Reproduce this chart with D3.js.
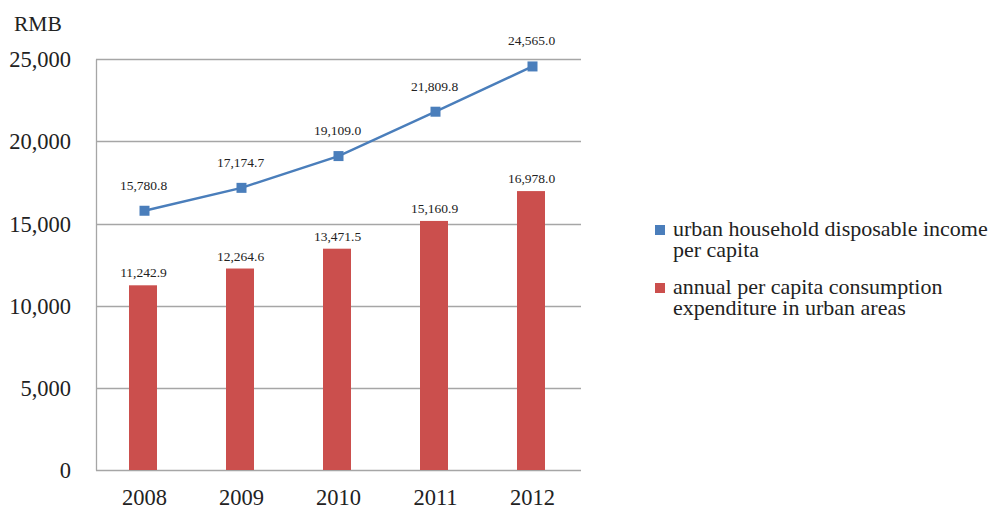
<!DOCTYPE html>
<html>
<head>
<meta charset="utf-8">
<script src="https://cdn.jsdelivr.net/npm/d3@7"></script>
<style>
  html, body { margin: 0; padding: 0; background: #fff; }
  svg { display: block; font-family: "Liberation Serif", "Times New Roman", serif; }
</style>
</head>
<body>
<svg id="chart" width="997" height="509"></svg>
<script>
// Urban income vs. consumption per capita, 2008–2012 (RMB)
const years = ["2008", "2009", "2010", "2011", "2012"];
const incomePerCapita = [15780.8, 17174.7, 19109.0, 21809.8, 24565.0];
const consumptionPerCapita = [11242.9, 12264.6, 13471.5, 15160.9, 16978.0];
const yTicks = [0, 5000, 10000, 15000, 20000, 25000];
const seriesNames = [
  ["urban household disposable income", "per capita"],
  ["annual per capita consumption", "expenditure in urban areas"]
];

const lineColor = "#4a7ebb";
const barColor = "#cb4f4d";
const gridColor = "#a6a6a6";
const textColor = "#222";

const svg = d3.select("#chart");
const plotLeft = 96, plotRight = 581, plotTop = 59.3, plotBottom = 470;

const x = d3.scaleBand().domain(years).range([plotLeft, plotRight]);
const y = d3.scaleLinear().domain([0, 25000]).range([plotBottom, plotTop]);
const fmt = d3.format(",.1f");
const cx = i => x(years[i]) + x.bandwidth() / 2;

// horizontal grid lines
svg.append("g")
  .selectAll("line")
  .data(yTicks)
  .join("line")
  .attr("x1", plotLeft).attr("x2", plotRight)
  .attr("y1", d => Math.round(y(d)) + 0.5).attr("y2", d => Math.round(y(d)) + 0.5)
  .attr("stroke", gridColor).attr("stroke-width", 1.3);

// left axis line
svg.append("line")
  .attr("x1", plotLeft + 0.5).attr("x2", plotLeft + 0.5)
  .attr("y1", Math.round(y(25000)) + 0.5).attr("y2", Math.round(y(0)) + 0.5)
  .attr("stroke", gridColor).attr("stroke-width", 1.3);

// y tick labels
const yAxis = d3.axisLeft(y).tickValues(yTicks).tickFormat(d3.format(",")).tickSize(0).tickPadding(25);
const gy = svg.append("g").attr("transform", `translate(${plotLeft},0)`).call(yAxis);
gy.select(".domain").remove();
gy.selectAll("text")
  .attr("font-family", "Liberation Serif, serif")
  .attr("font-size", 22.5).attr("fill", textColor).attr("dy", "0.33em");

// x tick labels
const xAxis = d3.axisBottom(x).tickSize(0).tickPadding(0);
const gx = svg.append("g").attr("transform", `translate(0,${plotBottom})`).call(xAxis);
gx.select(".domain").remove();
gx.selectAll("text")
  .attr("font-family", "Liberation Serif, serif")
  .attr("font-size", 22.5).attr("fill", textColor)
  .attr("dy", null).attr("y", 34.5);

// unit label
svg.append("text").attr("x", 14).attr("y", 31)
  .attr("font-size", 21.5).attr("fill", textColor).text("RMB");

// consumption bars
const barW = 28;
svg.append("g")
  .selectAll("rect")
  .data(consumptionPerCapita)
  .join("rect")
  .attr("x", (d, i) => cx(i) - 1.5 - barW / 2)
  .attr("y", d => y(d))
  .attr("width", barW)
  .attr("height", d => y(0) - y(d))
  .attr("fill", barColor);

svg.append("g")
  .selectAll("text")
  .data(consumptionPerCapita)
  .join("text")
  .attr("x", (d, i) => cx(i) - 1)
  .attr("y", d => y(d) - 8)
  .attr("text-anchor", "middle")
  .attr("font-size", 13.5).attr("fill", textColor)
  .text(d => fmt(d));

// income line
const line = d3.line()
  .x((d, i) => cx(i))
  .y(d => y(d));
svg.append("path")
  .datum(incomePerCapita)
  .attr("d", line)
  .attr("fill", "none").attr("stroke", lineColor).attr("stroke-width", 2.4);

const mk = 10;
svg.append("g")
  .selectAll("rect")
  .data(incomePerCapita)
  .join("rect")
  .attr("x", (d, i) => cx(i) - mk / 2)
  .attr("y", d => y(d) - mk / 2)
  .attr("width", mk).attr("height", mk)
  .attr("fill", lineColor);

svg.append("g")
  .selectAll("text")
  .data(incomePerCapita)
  .join("text")
  .attr("x", (d, i) => cx(i) - 1)
  .attr("y", d => y(d) - 21)
  .attr("text-anchor", "middle")
  .attr("font-size", 13.5).attr("fill", textColor)
  .text(d => fmt(d));

// legend
const legend = svg.append("g");
const legendColors = [lineColor, barColor];
const legendBaseline = [235.5, 293.5];
seriesNames.forEach((lines, k) => {
  legend.append("rect")
    .attr("x", 655).attr("y", legendBaseline[k] - 10.5)
    .attr("width", 10).attr("height", 10)
    .attr("fill", legendColors[k]);
  const t = legend.append("text")
    .attr("x", 673).attr("y", legendBaseline[k])
    .attr("font-size", 22).attr("fill", textColor);
  lines.forEach((s, j) => {
    t.append("tspan").attr("x", 673).attr("dy", j === 0 ? 0 : 21).text(s);
  });
});
</script>
</body>
</html>
